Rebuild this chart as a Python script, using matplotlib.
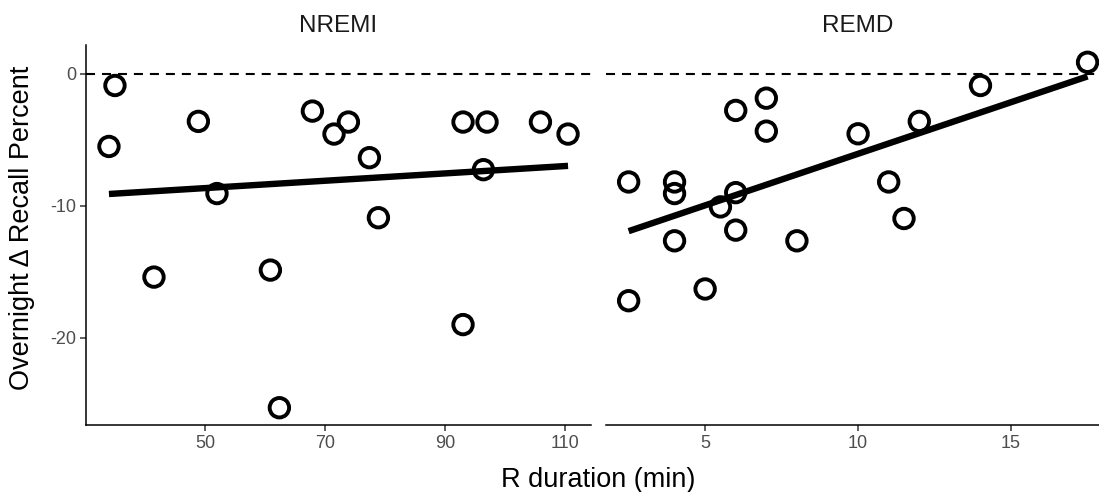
import numpy as np
import matplotlib
matplotlib.use("Agg")
import matplotlib.pyplot as plt

plt.rcParams['font.family'] = ['Liberation Sans', 'DejaVu Sans']
plt.rcParams['lines.scale_dashes'] = False
plt.rcParams['axes.unicode_minus'] = False

# ---- data ----
panels = ["NREMI", "REMD"]
nremi_x = [35.0, 34.0, 48.9, 41.5, 52.0, 60.9, 62.4, 67.9, 71.5, 73.9, 77.4, 78.9,
           93.0, 93.0, 97.0, 96.4, 105.9, 110.5]
nremi_y = [-0.88, -5.5, -3.6, -15.4, -9.07, -14.87, -25.3, -2.82, -4.56, -3.65, -6.35, -10.9,
           -3.65, -19.0, -3.65, -7.26, -3.65, -4.56]
remd_x = [2.5, 2.5, 4.0, 4.0, 4.0, 5.0, 5.5, 6.0, 6.0, 6.0, 7.0, 7.0, 8.0, 10.0, 11.0,
          11.5, 12.0, 14.0, 17.5]
remd_y = [-8.19, -17.19, -8.19, -9.07, -12.65, -16.3, -10.08, -2.77, -9.0, -11.84, -1.84,
          -4.34, -12.65, -4.54, -8.19, -10.96, -3.6, -0.88, 0.88]
nremi_ticks = [50, 70, 90, 110]
remd_ticks = [5, 10, 15]
y_ticks = [0, -10, -20]
x_title = "R duration (min)"
y_title = "Overnight \u0394 Recall Percent"

W, H = 1099, 492
fig = plt.figure(figsize=(W / 100, H / 100), dpi=100)

def fx(px):
    return px / W

def fy(py):
    return 1 - py / H

bottom = fy(425)
height = fy(45) - bottom
ax1 = fig.add_axes([fx(86), bottom, fx(591) - fx(86), height])
ax2 = fig.add_axes([fx(605.7), bottom, fx(1110.5) - fx(605.7), height])

yall = nremi_y + remd_y
ymin, ymax = min(yall), max(yall)
yr = ymax - ymin

def draw(ax, xs, ys, ticks, title, show_y):
    xs = np.array(xs); ys = np.array(ys)
    xr = xs.max() - xs.min()
    ax.set_xlim(xs.min() - 0.05 * xr, xs.max() + 0.05 * xr)
    ax.set_ylim(ymin - 0.05 * yr, ymax + 0.05 * yr)
    ax.axhline(0, color='black', lw=1.5, ls=(0, (6.5, 5)), zorder=1)
    ax.scatter(xs, ys, s=14.0 ** 2, facecolors='none', edgecolors='black',
               linewidths=2.8, zorder=3, clip_on=False)
    b, a = np.polyfit(xs, ys, 1)
    lx = np.array([xs.min(), xs.max()])
    ax.plot(lx, a + b * lx, color='black', lw=4.6, solid_capstyle='butt', zorder=4)
    ax.set_xticks(ticks)
    ax.set_yticks(y_ticks)
    for s in ['top', 'right']:
        ax.spines[s].set_visible(False)
    ax.spines['bottom'].set_linewidth(1.1)
    ax.spines['left'].set_linewidth(1.1)
    if not show_y:
        ax.spines['left'].set_visible(False)
        ax.tick_params(axis='y', left=False, labelleft=False)
    ax.tick_params(axis='both', length=4, width=1.1, color='#333333',
                   labelcolor='#4D4D4D', labelsize=13, pad=3)
    ax.set_title(title, fontsize=17.5, color='#1A1A1A', pad=9)

draw(ax1, nremi_x, nremi_y, nremi_ticks, panels[0], True)
draw(ax2, remd_x, remd_y, remd_ticks, panels[1], False)

fig.text(fx(598), fy(480), x_title, ha='center', va='center', fontsize=19.5, color='black')
fig.text(fx(22), fy(228), y_title, ha='center', va='center', rotation=90,
         fontsize=19.5, color='black')

fig.savefig("out.png", dpi=100)
